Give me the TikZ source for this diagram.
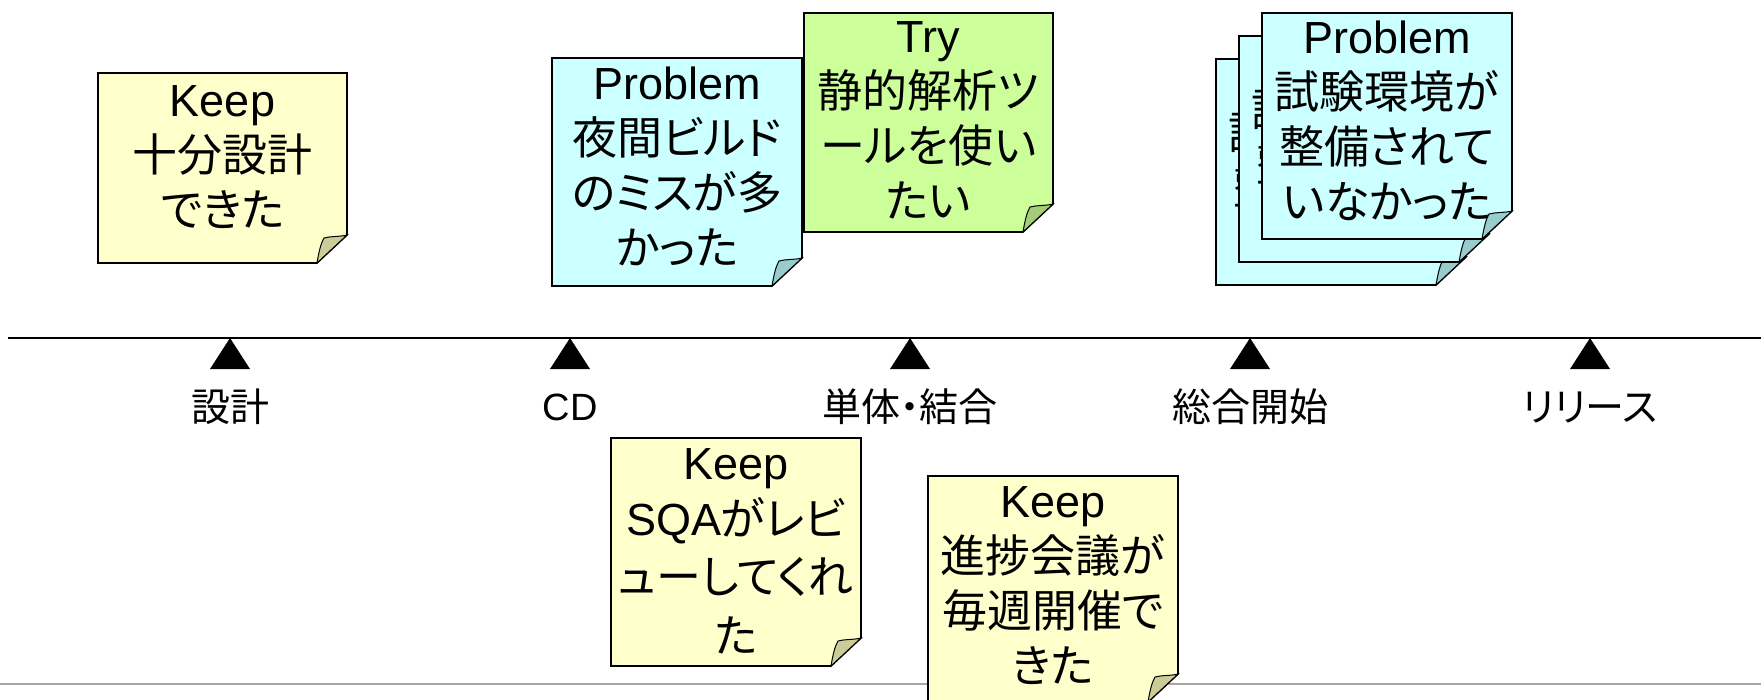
\documentclass[tikz,border=0pt]{standalone}
\usepackage{fontspec}
\setmainfont{Liberation Sans}
\newfontfamily\jp[RawFeature=+palt]{Noto Sans CJK JP}
\definecolor{ylwfill}{HTML}{FFFFCC}
\definecolor{ylwfold}{HTML}{CCCC99}
\definecolor{blufill}{HTML}{CCFFFF}
\definecolor{blufold}{HTML}{99CCCC}
\definecolor{grnfill}{HTML}{CCFF99}
\definecolor{grnfold}{HTML}{A3CC7A}
\definecolor{rulegray}{HTML}{A6A6A6}
\tikzset{
  notetext/.style={align=center, inner sep=0pt, anchor=north, font=\fontsize{45}{55}\selectfont},
  noteedge/.style={draw=black, line width=1.6pt, line join=miter},
  foldedge/.style={draw=black, line width=1pt},
  milestone/.style={inner sep=0pt, font=\jp\fontsize{39}{41}\selectfont},
  timeline/.style={draw=black, line width=1.6pt},
  marker/.style={fill=black},
}
% #1 name, #2 left, #3 top, #4 right, #5 bottom, #6 colour prefix, #7 text offset, #8 text
\newcommand\stickynote[8]{%
  \path[noteedge, fill=#6fill] (#2,#3) -- (#4,#3) -- (#4,#5-28) -- (#4-30,#5) -- (#2,#5) -- cycle;
  \path[foldedge, fill=#6fold] (#4-30,#5) .. controls (#4-28,#5-12) and (#4-26,#5-20) .. (#4-23,#5-25)
     .. controls (#4-16,#5-27) and (#4-8,#5-26) .. (#4,#5-28) -- cycle;
  \node[notetext] (#1) at ({(#2+#4)/2},#3+#7) {#8};
}
\begin{document}
\begin{tikzpicture}[x=1pt,y=-1pt]
\clip (0,0) rectangle (1761,699);
\fill[white] (0,0) rectangle (1761,699);

% bottom rule
\coordinate (gl) at (0,684);
\coordinate (gr) at (1761,684);
\draw[rulegray, line width=2.5pt] (gl) -- (gr);

% timeline
\coordinate (tl) at (8,338);
\coordinate (tr) at (1761,338);
\draw[timeline] (tl) -- (tr);

\foreach \x/\nm in {230/m1, 570/m2, 910/m3, 1250/m4, 1590/m5}{
  \fill[marker] (\x-20,369) -- (\x+20,369) -- (\x,338) -- cycle;
}
\node[milestone] (l1) at (230,407) {設計};
\node[milestone, font=\fontsize{38}{40}\selectfont] (l2) at (570,407) {CD};
\node[milestone] (l3) at (910,407) {単体・結合};
\node[milestone] (l4) at (1250,407) {総合開始};
\node[milestone] (l5) at (1590,407) {リリース};

% notes above
\stickynote{k1}{98}{73}{347}{263}{ylw}{12}{Keep\\{\jp 十分設計}\\{\jp できた}}
\stickynote{p1}{552}{58}{802}{286}{blu}{9}{Problem\\{\jp 夜間ビルド}\\{\jp のミスが多}\\{\jp かった}}
\stickynote{t1}{804}{13}{1053}{232}{grn}{8}{Try\\{\jp 静的解析ツ}\\{\jp ールを使い}\\{\jp たい}}

% stacked problem notes
\stickynote{p2c}{1216}{59}{1466}{285}{blu}{3}{Problem\\{\jp 試験環境が}\\{\jp 整備されて}\\{\jp いなかった}}
\stickynote{p2b}{1239}{36}{1489}{262}{blu}{3}{Problem\\{\jp 試験環境が}\\{\jp 整備されて}\\{\jp いなかった}}
\stickynote{p2a}{1262}{13}{1512}{239}{blu}{8}{Problem\\{\jp 試験環境が}\\{\jp 整備されて}\\{\jp いなかった}}

% notes below
\stickynote{k2}{611}{438}{861}{666}{ylw}{10}{Keep\\[1pt]SQA{\jp がレビ}\\[3pt]{\jp ューしてくれ}\\[4pt]{\jp た}}
\stickynote{k3}{928}{476}{1178}{702}{ylw}{10}{Keep\\{\jp 進捗会議が}\\{\jp 毎週開催で}\\{\jp きた}}
\end{tikzpicture}
\end{document}
